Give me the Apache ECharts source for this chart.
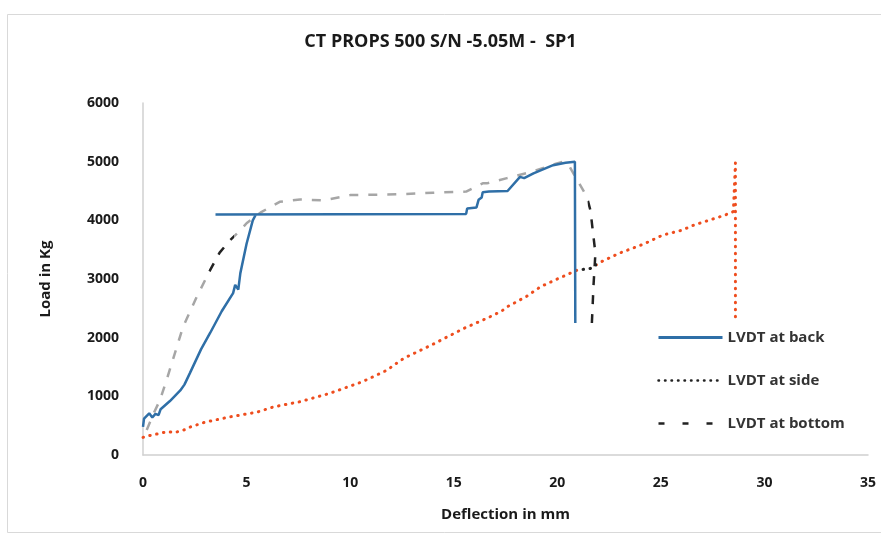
<!DOCTYPE html>
<html>
<head>
<meta charset="utf-8">
<script src="https://cdn.jsdelivr.net/npm/echarts@6/dist/echarts.min.js"></script>
<style>
html,body{margin:0;padding:0;background:#fff;}
#c{width:881px;height:538px;}
</style>
</head>
<body>
<div id="c"></div>
<script>
const titleText = 'CT PROPS 500 S/N -5.05M -  SP1';
const seriesNames = ['LVDT at back', 'LVDT at side', 'LVDT at bottom'];

const backX = [0, 0.05, 0.3, 0.45, 0.6, 0.75, 0.85, 1.3, 1.8, 2.0, 2.27, 2.8, 3.24, 3.8, 4.35, 4.45, 4.6, 4.7, 5.0, 5.3, 5.45, 3.5, 15.6, 15.65, 16.1, 16.2, 16.35, 16.4, 16.7, 17.6, 18.2, 18.4, 18.85, 19.8, 20.4, 20.85, 20.87];
const backY = [480, 620, 710, 640, 700, 680, 780, 920, 1100, 1200, 1400, 1800, 2080, 2450, 2760, 2900, 2820, 3100, 3600, 4000, 4100, 4100, 4110, 4200, 4220, 4350, 4390, 4480, 4490, 4500, 4740, 4720, 4800, 4940, 4980, 5000, 2250];

const sideX = [0, 0.3, 0.7, 1.2, 1.5, 2.0, 2.3, 3.0, 4.2, 5.5, 6.3, 7.6, 9.0, 10.6, 11.8, 12.1, 12.6, 13.9, 15.5, 16.6, 17.3, 17.6, 18.5, 19.2, 20.0, 20.95, 21.6, 22.1, 23.0, 24.2, 25.1, 26.0, 26.6, 27.4, 28.1, 28.5, 28.6, 28.6];
const sideY = [300, 330, 360, 400, 380, 430, 480, 560, 650, 730, 820, 910, 1050, 1250, 1450, 1530, 1650, 1870, 2160, 2330, 2450, 2530, 2700, 2870, 3000, 3150, 3180, 3290, 3440, 3600, 3750, 3830, 3920, 4010, 4090, 4150, 4980, 2350];

const bottomX = [0.18, 0.5, 0.82, 1.14, 1.93, 2.6, 3.24, 3.7, 4.2, 4.7, 5.0, 5.73, 6.6, 7.58, 8.7, 10.0, 12.4, 14.0, 15.6, 16.4, 16.6, 17.57, 18.8, 19.98, 20.3, 20.6, 21.43, 21.6, 21.84, 21.75, 21.67];
const bottomY = [426, 700, 937, 1280, 2180, 2700, 3150, 3450, 3660, 3830, 3950, 4145, 4315, 4355, 4340, 4430, 4445, 4470, 4490, 4630, 4630, 4720, 4830, 4970, 5000, 4910, 4400, 4170, 3440, 2900, 2250];

const xTicks = [0, 5, 10, 15, 20, 25, 30, 35];
const yTicks = [0, 1000, 2000, 3000, 4000, 5000, 6000];

const pair = (xs, ys) => xs.map((x, i) => [x, ys[i]]);

const chart = echarts.init(document.getElementById('c'));
const labelFont = 'Open Sans, Noto Sans, sans-serif';
chart.setOption({
  backgroundColor: '#fff',
  animation: false,
  graphic: [{
    type: 'rect', left: 5, top: 12, z: -1,
    shape: { width: 880, height: 518 },
    style: { fill: 'none', stroke: '#d9d9d9', lineWidth: 1 }
  }],
  title: {
    text: titleText,
    left: 'center', top: 28,
    textStyle: { fontFamily: labelFont, fontSize: 18, fontWeight: 'bold', color: '#1a1a1a' }
  },
  grid: { left: 143, right: 13, top: 103, bottom: 83 },
  xAxis: {
    type: 'value', min: xTicks[0], max: xTicks[xTicks.length - 1], interval: 5,
    name: 'Deflection in mm', nameLocation: 'middle', nameGap: 52,
    nameTextStyle: { fontFamily: labelFont, fontSize: 15, fontWeight: 'bold', color: '#1a1a1a' },
    axisLine: { lineStyle: { color: '#d0d0d0', width: 1.5 } },
    axisTick: { show: false },
    splitLine: { show: false },
    axisLabel: { fontFamily: labelFont, fontSize: 14, fontWeight: 'bold', color: '#1a1a1a', margin: 21,
      formatter: v => String(v) }
  },
  yAxis: {
    type: 'value', min: yTicks[0], max: yTicks[yTicks.length - 1], interval: 1000,
    name: 'Load in Kg', nameLocation: 'middle', nameGap: 90, nameRotate: 90,
    nameTextStyle: { fontFamily: labelFont, fontSize: 15, fontWeight: 'bold', color: '#1a1a1a' },
    axisLine: { show: true, lineStyle: { color: '#d0d0d0', width: 1.5 } },
    axisTick: { show: false },
    splitLine: { show: false },
    axisLabel: { fontFamily: labelFont, fontSize: 14, fontWeight: 'bold', color: '#1a1a1a', margin: 24,
      formatter: v => String(v) }
  },
  legend: {
    orient: 'vertical', left: 652, top: 325, itemWidth: 64, itemHeight: 14, itemGap: 28,
    textStyle: { fontFamily: labelFont, fontSize: 15, fontWeight: 'bold', color: '#333' },
    data: [
      { name: seriesNames[0], itemStyle: { opacity: 0 }, lineStyle: { color: '#2f6fa7', width: 3, type: 'solid' } },
      { name: seriesNames[1], itemStyle: { opacity: 0 }, lineStyle: { color: '#222', width: 2.5, type: [0.5, 6], cap: 'round' } },
      { name: seriesNames[2], itemStyle: { opacity: 0 }, lineStyle: { color: '#222', width: 2.5, type: [6, 18] } }
    ]
  },
  visualMap: [
    { show: false, type: 'piecewise', seriesIndex: 0, dimension: 0,
      pieces: [
        { lt: 21.0, color: '#ee4d1e' },
        { gte: 21.0, lt: 21.9, color: '#222' },
        { gte: 21.9, color: '#ee4d1e' }
      ] },
    { show: false, type: 'piecewise', seriesIndex: 1, dimension: 0,
      pieces: [
        { lt: 3.1, color: '#a6a6a6' },
        { gte: 3.1, lt: 4.4, color: '#222' },
        { gte: 4.4, lt: 21.48, color: '#a6a6a6' },
        { gte: 21.48, color: '#222' }
      ] }
  ],
  series: [
    { name: seriesNames[1], type: 'line', data: pair(sideX, sideY), showSymbol: false, symbol: 'none',
      lineStyle: { width: 3, type: [0.5, 6.5], cap: 'round' }, z: 2 },
    { name: seriesNames[2], type: 'line', data: pair(bottomX, bottomY), showSymbol: false, symbol: 'none',
      lineStyle: { width: 2.5, type: [9, 10] }, z: 3 },
    { name: seriesNames[0], type: 'line', data: pair(backX, backY), showSymbol: false, symbol: 'none',
      itemStyle: { color: '#2f6fa7' },
      lineStyle: { color: '#2f6fa7', width: 2.5 }, z: 4 }
  ]
});
</script>
</body>
</html>
